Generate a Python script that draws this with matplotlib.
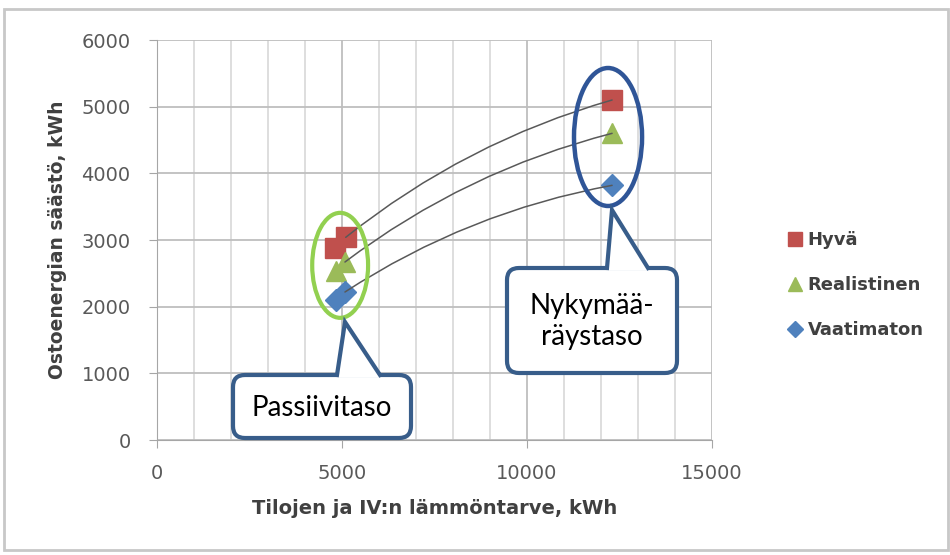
import matplotlib
matplotlib.use('Agg')
import matplotlib.pyplot as plt
from matplotlib.patches import Ellipse, FancyBboxPatch, Polygon, Rectangle
from matplotlib.lines import Line2D
import numpy as np

plt.rcParams['font.family'] = ['DejaVu Sans']

# data
series = ['Hyvä', 'Realistinen', 'Vaatimaton']
colors = ['#C0504D', '#9BBB59', '#4F81BD']
markers = ['s', '^', 'D']
msizes = [14, 14, 11]
passive_x = [[4810, 5100], [4840, 5080], [4840, 5080]]
passive_y = [[2880, 3040], [2540, 2670], [2100, 2220]]
nyky_x = [12300, 12300, 12300]
nyky_y = [5100, 4600, 3820]

xticks = [0, 5000, 10000, 15000]
yticks = [0, 1000, 2000, 3000, 4000, 5000, 6000]

W, H = 950, 555
L, R, B, T = 157, 712, 440, 40
fig = plt.figure(figsize=(W / 100, H / 100), dpi=100)
ax = fig.add_axes([L / W, 1 - B / H, (R - L) / W, (B - T) / H])

ax.set_xlim(0, 15000)
ax.set_ylim(0, 6000)
ax.set_xticks(xticks)
ax.set_xticks(np.arange(0, 15001, 1000), minor=True)
ax.set_yticks(yticks)
ax.grid(which='major', color='#BEBEBE', linewidth=1.3)
ax.grid(which='minor', axis='x', color='#D4D4D4', linewidth=1.1)
ax.set_axisbelow(True)
for s in ['top', 'right']:
    ax.spines[s].set_visible(False)
for s in ['left', 'bottom']:
    ax.spines[s].set_color('#A6A6A6')
ax.tick_params(which='major', colors='#A6A6A6', labelcolor='#595959', labelsize=14, length=6)
ax.tick_params(which='minor', length=0)
ax.tick_params(axis='x', pad=11)
ax.tick_params(axis='y', pad=13)
ax.set_xlabel('Tilojen ja IV:n lämmöntarve, kWh', fontsize=14, fontweight='bold',
              color='#404040', labelpad=12)
ax.set_ylabel('Ostoenergian säästö, kWh', fontsize=13.5, fontweight='bold',
              color='#404040', labelpad=10)

for i, name in enumerate(series):
    xs = passive_x[i] + [nyky_x[i]]
    ys = passive_y[i] + [nyky_y[i]]
    ax.plot(xs, ys, linestyle='none', marker=markers[i], color=colors[i],
            markersize=msizes[i], label=name, zorder=4)
    # connector curve drawn in the original as a shape
    ax.annotate('', xy=(nyky_x[i], nyky_y[i]), xytext=(passive_x[i][-1], passive_y[i][-1]),
                arrowprops=dict(arrowstyle='-', color='#595959', lw=1.1,
                                shrinkA=0, shrinkB=0,
                                connectionstyle='arc3,rad=-0.1'), zorder=5)

# ellipses around the two groups
ax.add_patch(Ellipse((4950, 2620), 1510, 1575, fill=False, edgecolor='#92D050', lw=3, zorder=6))
ax.add_patch(Ellipse((12190, 4545), 1840, 2070, fill=False, edgecolor='#2F5597', lw=3.2, zorder=6))

leg = ax.legend(loc='center left', bbox_to_anchor=(786 / W, 1 - 285 / H),
                bbox_transform=fig.transFigure, frameon=False, borderpad=0,
                borderaxespad=0, fontsize=13, labelspacing=1.5,
                handletextpad=0.2, handlelength=1.0, markerscale=0.75)
for t in leg.get_texts():
    t.set_color('#404040')
    t.set_fontweight('bold')

# overlay in pixel coords for callouts and frame
ov = fig.add_axes([0, 0, 1, 1], zorder=10)
ov.set_xlim(0, W)
ov.set_ylim(H, 0)
ov.axis('off')
ov.patch.set_alpha(0)

ov.add_patch(Rectangle((4, 9), W - 6, H - 14, fill=False, edgecolor='#C8C8C8', lw=2))

edge = '#385D8A'


def callout(x0, y0, x1, y1, b0, b1, tip, text):
    ov.add_patch(FancyBboxPatch((x0, y0), x1 - x0, y1 - y0,
                                boxstyle='round,pad=0,rounding_size=12',
                                facecolor='white', edgecolor=edge, lw=3, zorder=1))
    ov.add_patch(Polygon([(b0, y0 + 2.5), tip, (b1, y0 + 2.5)], closed=True,
                         facecolor='white', edgecolor='none', zorder=2))
    ov.add_line(Line2D([b0, tip[0], b1], [y0, tip[1], y0], color=edge, lw=3,
                       solid_joinstyle='miter', zorder=3))
    ov.text((x0 + x1) / 2, (y0 + y1) / 2 + 1, text, ha='center', va='center',
            fontsize=20, color='black', linespacing=1.25, zorder=4,
            family=['Lato', 'DejaVu Sans'])


callout(233, 375, 411, 438, 337, 380, (345, 322), 'Passiivitaso')
callout(507, 268, 677, 373, 607, 648, (612, 210), 'Nykymää-\nräystaso')

fig.savefig('out.png', dpi=100)
